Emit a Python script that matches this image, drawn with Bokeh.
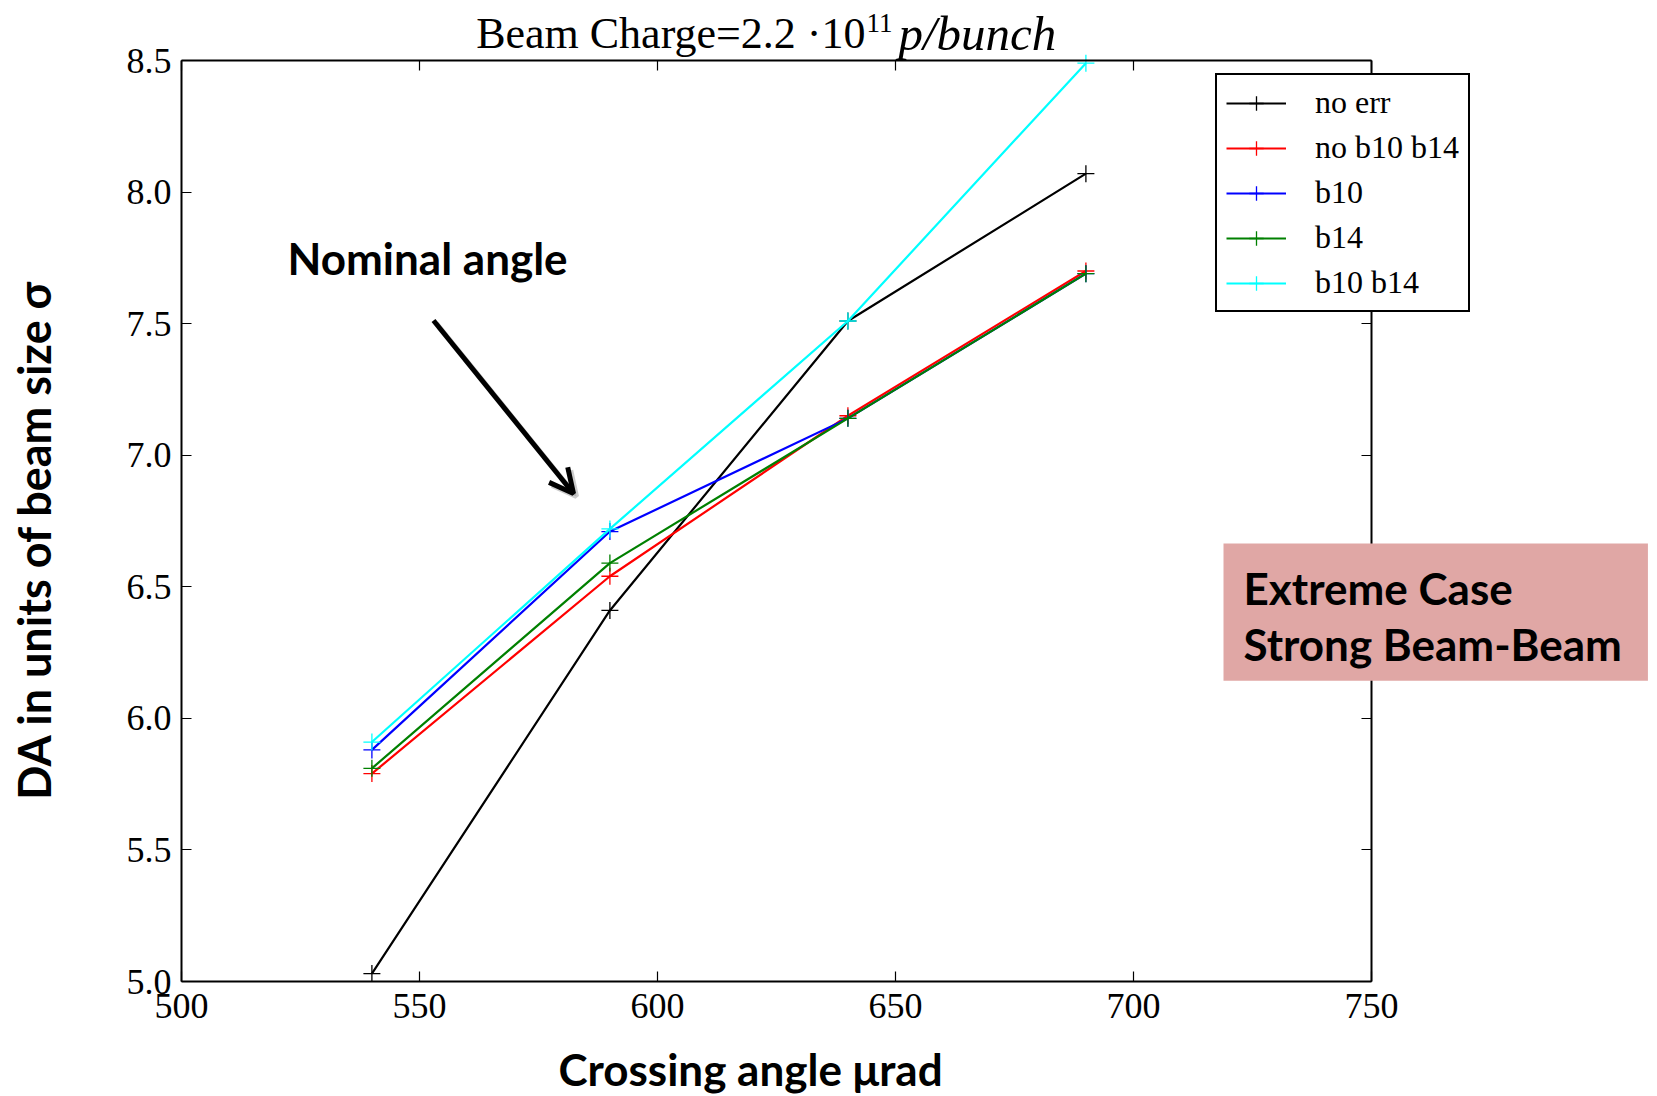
from bokeh.plotting import figure
from bokeh.models import (LinearAxis, FixedTicker, PrintfTickFormatter, Legend, LegendItem,
                          Label, Arrow, OpenHead, Range1d, CustomJSTickFormatter)
from bokeh.embed import file_html
from bokeh.resources import INLINE

# ---- data ----
angles = [540, 590, 640, 690]
no_err = [5.03, 6.41, 7.51, 8.07]
no_b10_b14 = [5.79, 6.54, 7.15, 7.70]
b10 = [5.88, 6.71, 7.14, 7.69]
b14 = [5.81, 6.59, 7.14, 7.69]
b10_b14 = [5.91, 6.72, 7.51, 8.49]
series_values = [no_err, no_b10_b14, b10, b14, b10_b14]
series_names = ["no err", "no b10 b14", "b10", "b14", "b10 b14"]
series_colors = ["#000000", "#FF0000", "#0000FF", "#008000", "#00FFFF"]
x_ticks = [500, 550, 600, 650, 700, 750]
y_ticks = [5.0, 5.5, 6.0, 6.5, 7.0, 7.5, 8.0, 8.5]
x_lim = (500, 750)
y_lim = (5.0, 8.5)

W, H = 1657, 1096
# pixel box of the data area inside the page
FL, FR, FT, FB = 181, 1371, 60, 981

SERIF = "Liberation Serif"
SANS = "Lato"

sx = (x_lim[1] - x_lim[0]) / (FR - FL)
sy = (y_lim[1] - y_lim[0]) / (FB - FT)

def dx(px):
    return x_lim[0] + (px - FL) * sx

def dy(py):
    return y_lim[1] - (py - FT) * sy

# the frame covers the whole page, so annotations outside the data box are not clipped
p = figure(width=W, height=H,
           x_range=Range1d(dx(0), dx(W)), y_range=Range1d(dy(H), dy(0)),
           output_backend="svg", toolbar_location=None,
           min_border=0, min_border_left=0, min_border_right=0,
           min_border_top=0, min_border_bottom=0)
p.grid.visible = False
p.outline_line_color = None
p.background_fill_color = "white"
p.border_fill_color = "white"

def style_axis(ax, ticks, bounds, loc, show_labels):
    ax.ticker = FixedTicker(ticks=ticks)
    ax.bounds = bounds
    ax.fixed_location = loc
    ax.minor_tick_line_color = None
    ax.major_tick_in = 10
    ax.major_tick_out = 0
    ax.major_tick_line_width = 1.2
    ax.major_tick_line_color = "black"
    ax.axis_line_width = 2
    ax.axis_line_color = "black"
    ax.major_label_text_font = SERIF
    ax.major_label_text_font_size = "36px"
    ax.major_label_text_color = "black"
    if not show_labels:
        ax.formatter = CustomJSTickFormatter(code="return ''")
        ax.major_label_standoff = 0

xa = p.xaxis[0]
ya = p.yaxis[0]
style_axis(xa, x_ticks, x_lim, y_lim[0], True)
style_axis(ya, y_ticks, y_lim, x_lim[0], True)
xa.formatter = PrintfTickFormatter(format="%d")
ya.formatter = PrintfTickFormatter(format="%.1f")
xa.major_label_standoff = 12
ya.major_label_standoff = 10

top_ax = LinearAxis()
style_axis(top_ax, x_ticks, x_lim, y_lim[1], False)
p.add_layout(top_ax, "above")
right_ax = LinearAxis()
style_axis(right_ax, y_ticks, y_lim, x_lim[1], False)
p.add_layout(right_ax, "right")

# ---- axis titles ----
p.add_layout(Label(x=dx(750), y=dy(1068), text="Crossing angle μrad", text_align="center",
                   text_baseline="middle", text_font=SANS, text_font_style="bold",
                   text_font_size="44px", text_color="black"))
p.add_layout(Label(x=dx(33), y=dy(539), text="DA in units of beam size σ", text_align="center",
                   text_baseline="middle", angle=90, angle_units="deg",
                   text_font=SANS, text_font_style="bold",
                   text_font_size="45px", text_color="black"))

# ---- series ----
items = []
for name, vals, col in zip(series_names, series_values, series_colors):
    ln = p.line(angles, vals, line_color=col, line_width=2.2)
    sc = p.scatter(angles, vals, marker="cross", size=17, line_color=col, line_width=1.3)
    items.append(LegendItem(label=name, renderers=[ln, sc]))

legend = Legend(items=items, location=(1215, H - 312))
legend.label_text_font = SERIF
legend.label_text_font_size = "32px"
legend.label_text_color = "black"
legend.glyph_width = 60
legend.glyph_height = 36
legend.label_height = 36
legend.spacing = 8
legend.padding = 9
legend.margin = 0
legend.label_standoff = 29
legend.border_line_color = "black"
legend.border_line_alpha = 1.0
legend.border_line_width = 2
legend.background_fill_color = "white"
legend.background_fill_alpha = 1.0
p.add_layout(legend)

# ---- title ----
SHIFT = 16  # alphabetic-baseline correction (px)
p.add_layout(Label(x=dx(865), y=dy(49 - SHIFT), text="Beam Charge=2.2 ·10", text_align="right",
                   text_baseline="alphabetic", text_font=SERIF, text_font_size="44px",
                   text_color="black"))
p.add_layout(Label(x=dx(866), y=dy(35 - SHIFT + 3), text="11", text_align="left",
                   text_baseline="alphabetic", text_font=SERIF, text_font_size="27px",
                   text_color="black"))
p.add_layout(Label(x=dx(898), y=dy(49 - SHIFT), text="p/bunch", text_align="left",
                   text_baseline="alphabetic", text_font=SERIF, text_font_style="italic",
                   text_font_size="49px", text_color="black"))

# ---- annotation: Nominal angle ----
p.add_layout(Label(x=dx(287), y=dy(273 - SHIFT), text="Nominal angle", text_align="left",
                   text_baseline="alphabetic", text_font=SANS, text_font_style="bold",
                   text_font_size="44px", text_color="black"))
p.add_layout(Arrow(x_start=dx(436), y_start=dy(323), x_end=dx(576), y_end=dy(496),
                   line_color="#9a9a9a", line_alpha=0.5, line_width=5,
                   end=OpenHead(size=24, line_color="#9a9a9a", line_alpha=0.5, line_width=5)))
p.add_layout(Arrow(x_start=dx(433), y_start=dy(320), x_end=dx(573), y_end=dy(493),
                   line_color="black", line_width=5,
                   end=OpenHead(size=24, line_color="black", line_width=5)))

# ---- annotation: Extreme case box ----
p.add_layout(Label(x=dx(1223), y=dy(543),
                   text="Extreme Case\nStrong Beam-Beam", text_align="left",
                   text_baseline="top", text_font=SANS, text_font_style="bold",
                   text_font_size="44px", text_color="black", text_line_height=1.08,
                   background_fill_color="#E0A7A5", background_fill_alpha=1.0,
                   padding=dict(left=20, right=26, top=18, bottom=11)))

open("out.html", "w").write(file_html(p, INLINE))
